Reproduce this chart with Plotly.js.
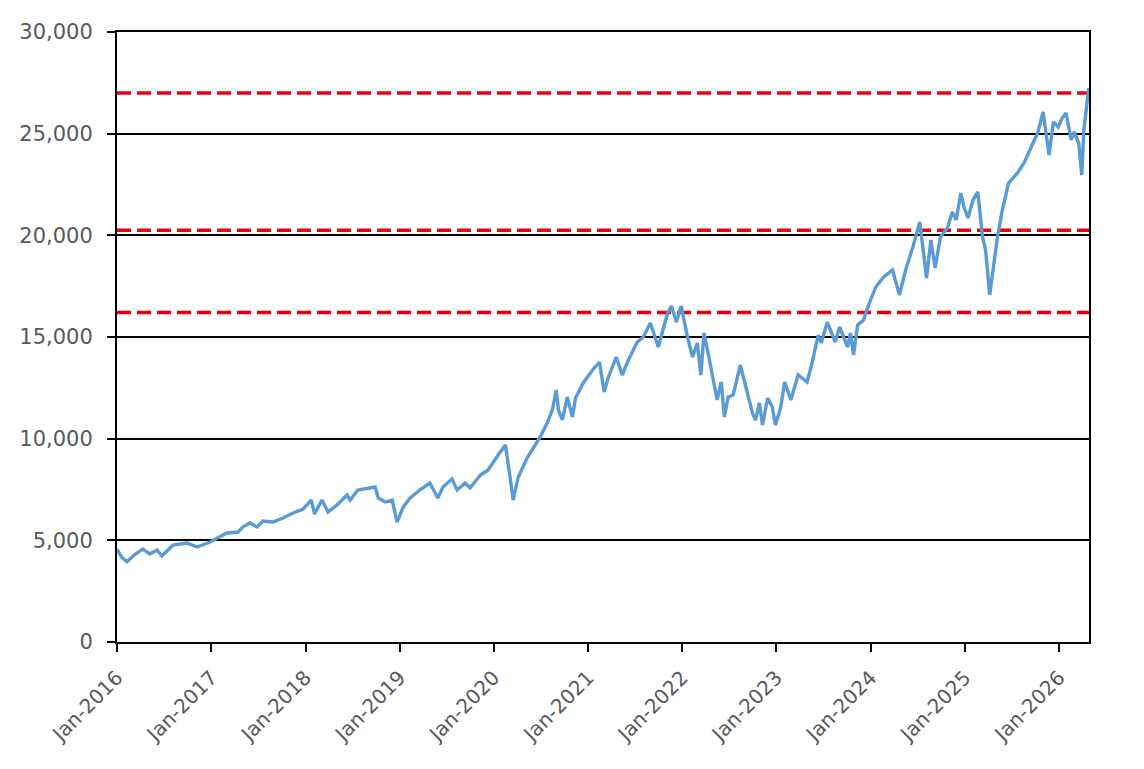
<!DOCTYPE html>
<html>
<head>
<meta charset="utf-8">
<script src="https://cdn.plot.ly/plotly-3.0.1.min.js"></script>
<style>
  html, body { margin: 0; padding: 0; background: #fff; }
  #chart { width: 1144px; height: 769px; }
</style>
</head>
<body>
<div id="chart"></div>
<script>
// index level
const dates = [
  '2016-01-01','2016-01-20','2016-02-09','2016-03-10','2016-04-10','2016-05-07','2016-06-04','2016-06-23','2016-08-05','2016-09-28',
  '2016-11-07','2016-12-27','2017-01-30','2017-03-02','2017-04-14','2017-05-03','2017-05-30','2017-06-27','2017-07-20',
  '2017-08-28','2017-10-06','2017-11-14','2017-12-23','2018-01-23','2018-02-05','2018-03-06','2018-03-29',
  '2018-05-03','2018-06-11','2018-06-23','2018-07-23','2018-08-28','2018-09-28','2018-10-10','2018-11-06',
  '2018-12-03','2018-12-22','2019-01-15','2019-02-11','2019-03-20','2019-04-28','2019-05-29','2019-06-18',
  '2019-07-23','2019-08-12','2019-09-12','2019-10-01','2019-11-10','2019-12-10','2020-01-18','2020-02-15',
  '2020-03-04','2020-03-16','2020-04-05','2020-05-09','2020-06-29','2020-07-26','2020-08-15','2020-08-30',
  '2020-09-08','2020-09-23','2020-10-12','2020-11-01','2020-11-13','2020-12-13','2021-01-18','2021-02-14',
  '2021-03-04','2021-03-19','2021-04-20','2021-05-13','2021-06-06','2021-07-10','2021-08-03','2021-08-30',
  '2021-09-30','2021-11-05','2021-11-20','2021-12-09','2021-12-28','2022-01-21','2022-02-10','2022-02-28',
  '2022-03-14','2022-03-26','2022-04-11','2022-05-01','2022-05-16','2022-06-01','2022-06-13','2022-06-28',
  '2022-07-17','2022-08-14','2022-09-07','2022-09-30','2022-10-12','2022-10-27','2022-11-08','2022-11-28',
  '2022-12-16','2022-12-28','2023-01-17','2023-02-02','2023-02-26','2023-03-26','2023-04-30','2023-05-19',
  '2023-06-12','2023-06-24','2023-07-17','2023-08-17','2023-09-03','2023-10-04','2023-10-15','2023-10-27',
  '2023-11-12','2023-12-05','2023-12-20','2024-01-21','2024-02-21','2024-03-26','2024-04-22','2024-05-16',
  '2024-06-13','2024-07-10','2024-08-05','2024-08-22','2024-09-07','2024-09-28','2024-10-25','2024-11-13',
  '2024-11-28','2024-12-16','2024-12-28','2025-01-13','2025-02-01','2025-02-20','2025-03-10','2025-03-22',
  '2025-04-07','2025-04-22','2025-05-07','2025-05-26','2025-06-19','2025-07-24','2025-08-18','2025-09-22',
  '2025-10-10','2025-10-31','2025-11-23','2025-12-10','2025-12-29','2026-01-13','2026-01-28','2026-02-17',
  '2026-02-28','2026-03-18','2026-03-30','2026-04-07','2026-04-19','2026-04-26'
]
const index = [
  4550, 4150, 3950, 4300, 4574, 4330, 4525, 4230, 4770, 4870,
  4672, 4918, 5150, 5360, 5410, 5656, 5850, 5656, 5950,
  5900, 6098, 6344, 6541, 6983, 6295, 6983, 6393,
  6737, 7229, 6983, 7475, 7574, 7623, 7082, 6885,
  6983, 5900, 6640, 7082, 7475, 7820, 7082, 7623,
  8016, 7475, 7820, 7574, 8213, 8459, 9197, 9689,
  8115, 6983, 8115, 9050, 10082, 10770, 11410, 12393,
  11410, 10918, 12050, 11066, 12000, 12738, 13377, 13770,
  12295, 12984, 14016, 13131, 13869, 14754, 15000, 15688,
  14508, 16180, 16524, 15737, 16524, 15000, 14016, 14705,
  13131, 15197, 14213, 12885, 11902, 12787, 11066, 12050,
  12148, 13623, 12492, 11262, 10918, 11754, 10672, 12000,
  11557, 10672, 11508, 12787, 11902, 13131, 12787, 13721,
  15098, 14705, 15737, 14754, 15492, 14508, 15197, 14115,
  15590, 15836, 16426, 17459, 17951, 18295, 17066, 18295,
  19426, 20656, 17902, 19770, 18393, 19918, 20360, 21148,
  20754, 22082, 21393, 20852, 21738, 22131, 19918, 19279,
  17066, 18640, 19918, 21246, 22574, 23066, 23558, 24541,
  25033, 26066, 23951, 25574, 25328, 25770, 26016, 24689,
  25082, 24541, 22967, 25180, 26656, 27246
]
// red dashed reference levels
const levels = [27000, 20250, 16200]

const tickVals = []
const tickText = []
for (let yr = 2016; yr <= 2026; yr++) {
  tickVals.push(yr + '-01-01')
  tickText.push('Jan-' + yr)
}

const xStart = '2016-01-01'
const xEnd = '2026-04-27'

const shapes = levels.map(v => ({
  type: 'line', xref: 'paper', x0: 0, x1: 1, yref: 'y', y0: v, y1: v,
  line: {color: '#E8000B', width: 3.5, dash: '14px,6px'},
  layer: 'below',
}))

Plotly.newPlot('chart', [{
  x: dates,
  y: index,
  type: 'scatter',
  mode: 'lines',
  line: {color: '#5B9BD5', width: 3.4},
  hoverinfo: 'x+y',
}], {
  width: 1144,
  height: 769,
  margin: {l: 117, r: 55, t: 32, b: 127},
  paper_bgcolor: '#ffffff',
  plot_bgcolor: '#ffffff',
  showlegend: false,
  font: {family: 'DejaVu Sans, Verdana, sans-serif', size: 20, color: '#595959'},
  xaxis: {
    type: 'date',
    range: [xStart, xEnd],
    tickmode: 'array',
    tickvals: tickVals,
    ticktext: tickText,
    tickangle: -45,
    ticks: 'outside',
    ticklen: 8,
    tickwidth: 2,
    tickcolor: '#000',
    ticklabelstandoff: 6,
    showgrid: false,
    showline: true,
    linecolor: '#000',
    linewidth: 2,
    mirror: true,
    zeroline: false,
    tickfont: {size: 20, color: '#595959'},
  },
  yaxis: {
    range: [0, 30000],
    tickvals: [0, 5000, 10000, 15000, 20000, 25000, 30000],
    tickformat: ',d',
    ticks: 'outside',
    ticklen: 8,
    tickwidth: 2,
    tickcolor: '#000',
    ticklabelstandoff: 10,
    showgrid: true,
    gridcolor: '#000',
    gridwidth: 1.8,
    showline: true,
    linecolor: '#000',
    linewidth: 2,
    mirror: true,
    zeroline: false,
    tickfont: {size: 21, color: '#595959'},
  },
  shapes,
}, {displayModeBar: false, staticPlot: true})
</script>
</body>
</html>
